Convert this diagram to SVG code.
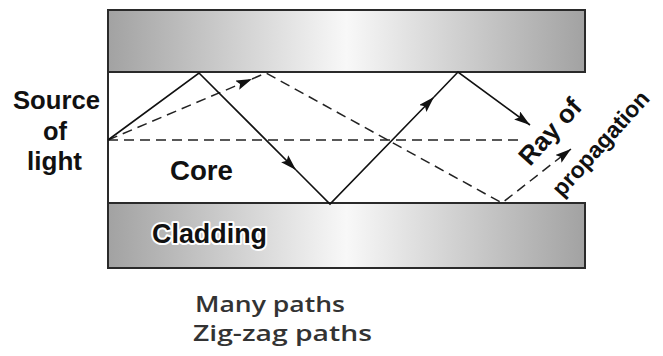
<svg xmlns="http://www.w3.org/2000/svg" width="663" height="356" viewBox="0 0 663 356">
<style>
.lbl{font-family:"Liberation Sans",Arial,sans-serif;font-weight:bold;fill:#111}
.halo{paint-order:stroke;stroke:#fff;stroke-width:4;stroke-linejoin:round}
.ray{fill:none;stroke:#111;stroke-width:1.6}
.dash{fill:none;stroke:#222;stroke-width:1.5;stroke-dasharray:10 6}
.clad{fill:url(#cg);stroke:#2a2a2a;stroke-width:2}
.note{font-family:"Open Sans","Noto Sans",sans-serif;font-weight:600;fill:#333;font-size:22px}
</style>
<defs>
<linearGradient id="cg" x1="0" y1="0" x2="1" y2="0">
<stop offset="0" stop-color="#a2a2a2"/>
<stop offset="0.5" stop-color="#f8f8f8"/>
<stop offset="1" stop-color="#a2a2a2"/>
</linearGradient>
<marker id="ah" viewBox="0 0 16 10" refX="16" refY="5" markerWidth="16" markerHeight="10" markerUnits="userSpaceOnUse" orient="auto">
<path d="M0,0 L16,5 L0,10 L3,5 z" fill="#111"/>
</marker>
</defs>

<g id="core">
<rect x="108" y="72" width="477" height="131" fill="#fff"/>
<line x1="108" y1="72" x2="108" y2="203" stroke="#2a2a2a" stroke-width="2"/>
<text class="lbl" x="170" y="180" font-size="27" textLength="63" lengthAdjust="spacingAndGlyphs">Core</text>
</g>

<g id="cladding-top">
<rect class="clad" x="108" y="10" width="477" height="62"/>
</g>

<g id="cladding-bottom">
<rect class="clad" x="108" y="203" width="477" height="65"/>
<text class="lbl halo" x="152" y="243" font-size="27" textLength="115" lengthAdjust="spacingAndGlyphs">Cladding</text>
</g>

<g id="connectors">
<path class="dash" d="M108,140 L523,140"/>
<path class="dash" d="M108,140 L252,79" marker-end="url(#ah)"/>
<path class="dash" d="M252,79 L266,73 L502,203 L571,149" marker-end="url(#ah)"/>
<path class="ray" d="M108,140 L199,73 L296,170" marker-end="url(#ah)"/>
<path class="ray" d="M296,170 L330,204 L434,97" marker-end="url(#ah)"/>
<path class="ray" d="M434,97 L458,72 L530,125" marker-end="url(#ah)"/>
</g>

<g id="source">
<text class="lbl" x="13" y="109" font-size="26" textLength="87" lengthAdjust="spacingAndGlyphs">Source</text>
<text class="lbl" x="43" y="140" font-size="26" textLength="24" lengthAdjust="spacingAndGlyphs">of</text>
<text class="lbl" x="27" y="170" font-size="26" textLength="55" lengthAdjust="spacingAndGlyphs">light</text>
</g>

<g id="ray-label">
<text class="lbl" font-size="26" transform="translate(530,167) rotate(-48)">Ray of</text>
<text class="lbl" font-size="23" transform="translate(562,198) rotate(-48)">propagation</text>
</g>

<g id="caption">
<text class="note" x="195" y="312" textLength="150" lengthAdjust="spacingAndGlyphs">Many paths</text>
<text class="note" x="193" y="341" textLength="179" lengthAdjust="spacingAndGlyphs">Zig-zag paths</text>
</g>
</svg>
